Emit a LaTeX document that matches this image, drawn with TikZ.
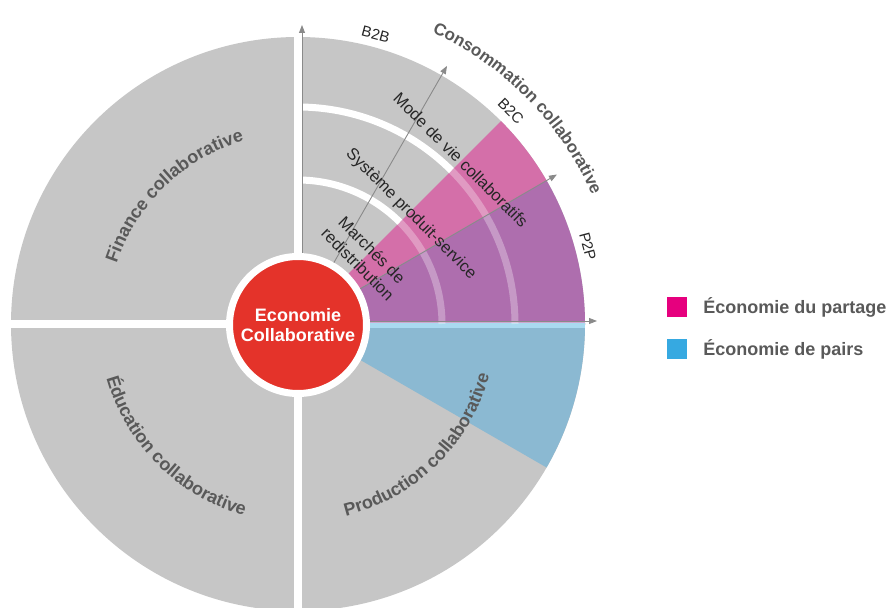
\documentclass[tikz,border=0pt]{standalone}
\usepackage{fontspec}
\setmainfont{Liberation Sans}
\usetikzlibrary{arrows.meta,decorations.text,backgrounds,positioning}
\definecolor{quadgray}{HTML}{C6C6C6}
\definecolor{sharepink}{HTML}{D46FA9}
\definecolor{sharepurple}{HTML}{AE6EAE}
\definecolor{pairblue}{HTML}{8BB9D2}
\definecolor{pairlight}{HTML}{A9DAF0}
\definecolor{hubred}{HTML}{E4332A}
\definecolor{labelgray}{HTML}{595959}
\definecolor{axisgray}{HTML}{8A8A8A}
\definecolor{keypink}{HTML}{E6007E}
\definecolor{keyblue}{HTML}{36A9E1}
\tikzset{
  hub/.style={circle,fill=hubred,draw=white,line width=7pt,minimum size=137pt,inner sep=0pt,
    text=white,font=\fontsize{18}{20}\selectfont\bfseries,align=center},
  axis/.style={draw=axisgray,line width=0.9pt},
  ring/.style={white,line width=7pt},
  insidetext/.style={font=\fontsize{16.5}{20}\selectfont,text=black!85,align=center,inner sep=0pt},
  tagtext/.style={font=\fontsize{15}{18}\selectfont,text=black!85,inner sep=0pt},
  keybox/.style={minimum size=20pt,inner sep=0pt},
  keytext/.style={font=\fontsize{18}{20}\selectfont\bfseries,text=labelgray,inner sep=0pt,anchor=base west},
  bent/.style 2 args={decorate,decoration={text along path,text align=center,
    text={|\fontsize{#1}{20}\selectfont\bfseries\color{labelgray}|#2}}}
}
\begin{document}
\begin{tikzpicture}[x=1pt,y=1pt,>={Triangle[length=8pt,width=6pt]}]
\useasboundingbox (-298,-283) rectangle (592,324);
\node[hub] (hub) at (0,-1) {Economie\\Collaborative};
\begin{scope}[on background layer]
\fill[quadgray] (0,0) circle [radius=287];
\fill[sharepink] (0,0) -- (45:287) arc [start angle=45,end angle=30,radius=287] -- cycle;
\fill[sharepurple] (0,0) -- (30:287) arc [start angle=30,end angle=0,radius=287] -- cycle;
\fill[pairblue] (0,0) -- (0:287) arc [start angle=0,end angle=-30,radius=287] -- cycle;
\fill[white] (-4,-290) rectangle (4,290);
\fill[white] (-290,-4) rectangle (0,4);
\fill[pairlight] (0,-4) rectangle (287,1);
\fill[sharepurple!60!white] (0,1) rectangle (287,2.5);
\foreach \r in {144,217}{
  \draw[ring] (90:\r) arc [start angle=90,end angle=45,radius=\r];
  \draw[ring,opacity=.3] (45:\r) arc [start angle=45,end angle=0,radius=\r];
}
\end{scope}
\coordinate (tipb2b) at (4,299);
\coordinate (tipmid) at (60:298);
\coordinate (tipp2p) at (30:299);
\coordinate (tipx) at (299,3);
\draw[axis] [->] (hub.north -| tipb2b) -- (tipb2b);
\draw[axis] [->] (hub) -- (tipmid);
\draw[axis] [->] (hub) -- (tipp2p);
\draw[axis] [->] (hub.east |- tipx) -- (tipx);
\node[insidetext,rotate=-45] (modevie) at (163,164) {Mode de vie collaboratifs};
\node[insidetext,rotate=-45] (systeme) at (113,110) {Système produit-service};
\node[insidetext,rotate=-45] (marches) at (67,67) {Marchés de\\redistribution};
\node[tagtext,rotate=-15] (lblb2b) at (75:300) {B2B};
\node[tagtext,rotate=-45] (lblb2c) at (45:301) {B2C};
\node[tagtext,rotate=-75] (lblp2p) at (15:300) {P2P};
\path[bent={18}{Finance collaborative}] (174:191) arc [start angle=174,end angle=94,radius=191];
\path[bent={18}{Éducation collaborative}] (185:199) arc [start angle=185,end angle=265,radius=199];
\path[bent={18}{Production collaborative}] (275:198) arc [start angle=275,end angle=354,radius=198];
\path[bent={17}{Consommation collaborative}] (85:321) arc [start angle=85,end angle=4,radius=321];
\node[keybox,fill=keypink] (keyshare) at (379,17) {};
\node[keybox,fill=keyblue,below=22pt of keyshare] (keypair) {};
\node[keytext] (keysharetxt) at ([xshift=16pt,yshift=-6pt]keyshare.east) {Économie du partage};
\node[keytext] (keypairtxt) at ([xshift=16pt,yshift=-6pt]keypair.east) {Économie de pairs};
\end{tikzpicture}
\end{document}
